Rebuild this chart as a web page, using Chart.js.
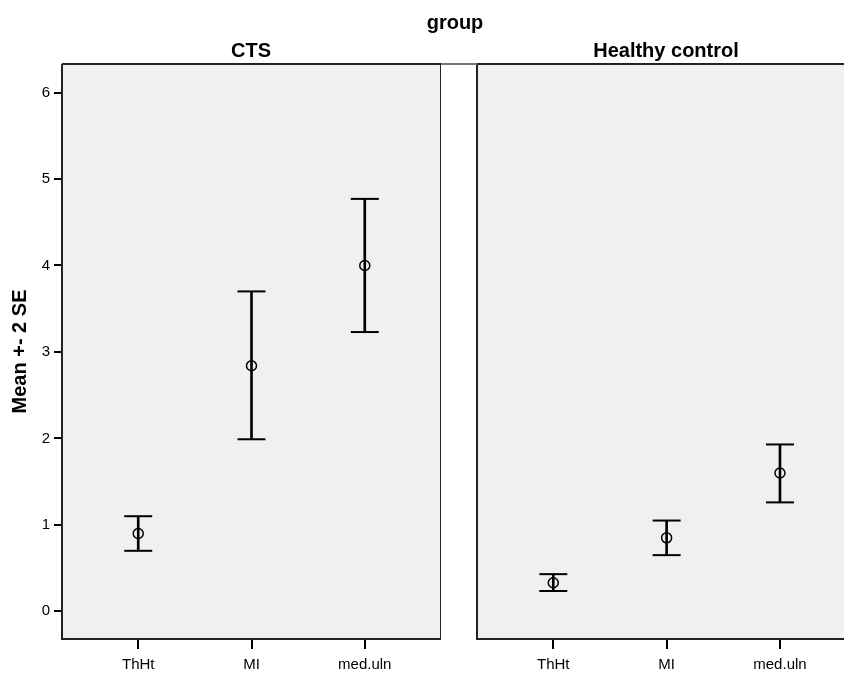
<!DOCTYPE html>
<html>
<head>
<meta charset="utf-8">
<script src="https://cdn.jsdelivr.net/npm/chart.js@4"></script>
<style>
  body { margin: 0; background: #fff; }
  #wrap { position: relative; width: 844px; height: 673px; overflow: hidden; font-family: 'Liberation Sans', Arial, sans-serif; }
  canvas { position: absolute; top: 0; }
  .lbl { position: absolute; transform: translate(-50%, -50%); font-weight: bold; color: #000; white-space: nowrap; }
</style>
</head>
<body>
<div id="wrap">
  <canvas id="ctsChart" width="441" height="673" style="left:0"></canvas>
  <canvas id="hcChart" width="403" height="673" style="left:441px"></canvas>
  <div class="lbl" style="left:455px; top:22px; font-size:20px">group</div>
  <div class="lbl" style="left:251px; top:50px; font-size:20px">CTS</div>
  <div class="lbl" style="left:666px; top:50px; font-size:20px">Healthy control</div>
</div>
<script>
const categories = ['ThHt', 'MI', 'med.uln'];
const yTicks = [0, 1, 2, 3, 4, 5, 6];

// CTS group: mean and mean +- 2 SE
const ctsMean = [0.90, 2.84, 4.00];
const ctsUpper = [1.10, 3.70, 4.77];
const ctsLower = [0.70, 1.99, 3.23];

// Healthy control group
const hcMean = [0.33, 0.85, 1.60];
const hcUpper = [0.43, 1.05, 1.93];
const hcLower = [0.235, 0.65, 1.26];

const FONT = "'Liberation Sans', Arial, sans-serif";

// panel background + frame
const panelBox = {
  id: 'panelBox',
  beforeDraw(chart) {
    const { ctx, chartArea: a } = chart;
    ctx.save();
    ctx.fillStyle = '#f0f0f0';
    ctx.fillRect(a.left, a.top, a.right - a.left, a.bottom - a.top);
    ctx.restore();
  },
  afterDraw(chart, args, opts) {
    const { ctx, chartArea: a } = chart;
    ctx.save();
    ctx.strokeStyle = '#222';
    ctx.lineWidth = 2;
    ctx.beginPath();
    ctx.moveTo(a.left, a.top);
    ctx.lineTo(a.left, a.bottom);
    ctx.lineTo(a.right, a.bottom);
    if (opts.closed) {
      ctx.lineTo(a.right, a.top);
      ctx.lineTo(a.left, a.top);
    } else {
      ctx.moveTo(a.left, a.top);
      ctx.lineTo(a.right, a.top);
    }
    ctx.stroke();
    if (opts.gap) {
      // thin strip top between the two panels
      ctx.strokeStyle = '#777';
      ctx.beginPath();
      ctx.moveTo(0, a.top);
      ctx.lineTo(a.left, a.top);
      ctx.stroke();
    }
    ctx.restore();
  }
};

function createPanel(canvas, mean, lower, upper, cfg) {
  return new Chart(canvas, {
    type: 'scatter',
    data: {
      datasets: [
        {
          type: 'bar',
          data: mean.map((m, i) => ({ x: i, y: [lower[i], upper[i]] })),
          backgroundColor: '#000',
          barThickness: 2
        },
        {
          data: upper.map((v, i) => ({ x: i, y: v })),
          pointStyle: 'line',
          pointRadius: 14,
          borderColor: '#000',
          borderWidth: 2
        },
        {
          data: lower.map((v, i) => ({ x: i, y: v })),
          pointStyle: 'line',
          pointRadius: 14,
          borderColor: '#000',
          borderWidth: 2
        },
        {
          data: mean.map((v, i) => ({ x: i, y: v })),
          pointStyle: 'circle',
          pointRadius: 5,
          borderColor: '#000',
          backgroundColor: 'rgba(0,0,0,0)',
          borderWidth: 1.5
        }
      ]
    },
    options: {
      responsive: false,
      animation: false,
      events: [],
      layout: { autoPadding: false, padding: { top: 64, left: 0, right: 0, bottom: 0 } },
      plugins: {
        legend: { display: false },
        tooltip: { enabled: false },
        panelBox: { closed: cfg.closed, gap: cfg.gap }
      },
      scales: {
        x: {
          type: 'linear',
          offset: false,
          min: -0.673,
          max: cfg.xMax,
          afterBuildTicks: (scale) => { scale.ticks = categories.map((c, i) => ({ value: i })); },
          afterFit: (scale) => {
            scale.height = 34;
            scale.paddingLeft = 0;
            scale.paddingRight = 0;
          },
          ticks: {
            callback: (v) => categories[v],
            color: '#000',
            font: { family: FONT, size: 15 },
            padding: 7,
            maxRotation: 0
          },
          grid: { offset: false, drawOnChartArea: false, drawTicks: true, tickLength: 10, color: '#000', lineWidth: 2 },
          border: { display: false }
        },
        y: {
          min: -0.32,
          max: 6.33,
          afterBuildTicks: (scale) => { scale.ticks = yTicks.map((v) => ({ value: v })); },
          afterFit: (scale) => { scale.width = cfg.yWidth; },
          ticks: {
            display: cfg.showY,
            color: '#000',
            font: { family: FONT, size: 15 },
            padding: 4
          },
          grid: { display: cfg.showY, drawOnChartArea: false, drawTicks: true, tickLength: 8, color: '#000', lineWidth: 2 },
          border: { display: false },
          title: {
            display: cfg.showY,
            text: 'Mean +- 2 SE',
            color: '#000',
            font: { family: FONT, size: 20, weight: 'bold' },
            padding: { top: 8, bottom: 0 }
          }
        }
      }
    },
    plugins: [panelBox]
  });
}

createPanel(document.getElementById('ctsChart'), ctsMean, ctsLower, ctsUpper,
  { xMax: 2.673, yWidth: 62, showY: true, closed: true, gap: false });

createPanel(document.getElementById('hcChart'), hcMean, hcLower, hcUpper,
  { xMax: 2.565, yWidth: 36, showY: false, closed: false, gap: true });
</script>
</body>
</html>
